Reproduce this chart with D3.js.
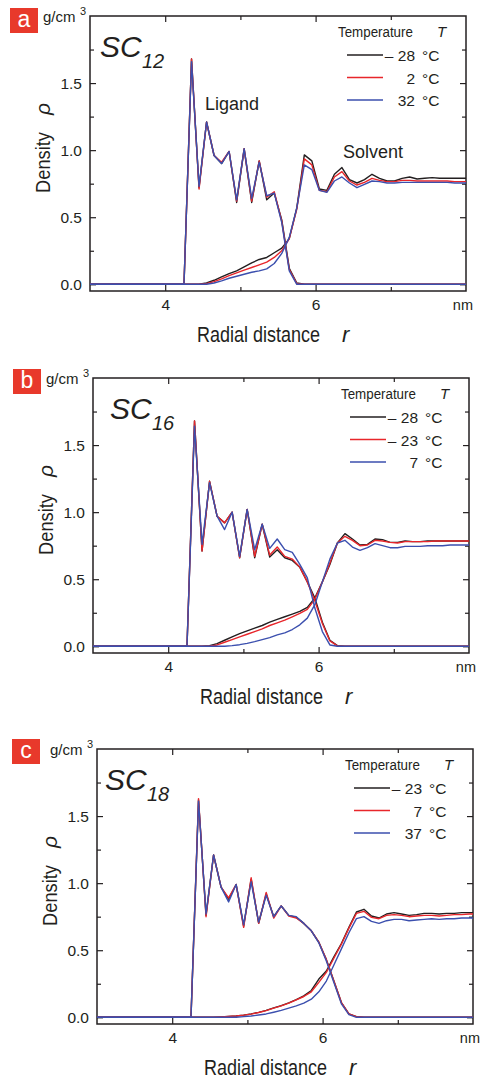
<html>
<head>
<meta charset="utf-8">
<script src="https://d3js.org/d3.v7.min.js"></script>
<style>
  body {margin: 0; background: #fff;}
  svg text {font-family: "Liberation Sans", Arial, sans-serif; fill: #231f20;}
</style>
</head>
<body>
<svg width=481 height=1083></svg>
<script>
// radial distance grid (nm)
var r = [3.00, 4.25, 4.35, 4.45, 4.55, 4.65, 4.75, 4.85, 4.95, 5.05, 5.15, 5.25, 5.35, 5.45, 5.55, 5.65,
         5.75, 5.85, 5.95, 6.05, 6.15, 6.25, 6.35, 6.45, 6.55, 6.65, 6.75, 6.85, 6.95, 7.05, 7.15, 7.25,
         7.35, 7.45, 7.55, 7.65, 7.75, 7.85, 7.95, 8.00];

// panel a, SC12
var ligA_k = [0,0,1.68,0.72,1.21,0.96,0.90,0.99,0.61,1.01,0.61,0.92,0.63,0.68,0.48,0.12,0.01,0,0,0,0,0,0,0,0,0,0,0,0,0,0,0,0,0,0,0,0,0,0,0];
var ligA_r = [0,0,1.68,0.71,1.21,0.96,0.91,0.99,0.62,1.01,0.62,0.92,0.65,0.69,0.47,0.11,0.005,0,0,0,0,0,0,0,0,0,0,0,0,0,0,0,0,0,0,0,0,0,0,0];
var ligA_b = [0,0,1.66,0.73,1.21,0.96,0.90,0.99,0.63,1.01,0.64,0.91,0.66,0.68,0.46,0.10,0,0,0,0,0,0,0,0,0,0,0,0,0,0,0,0,0,0,0,0,0,0,0,0];
var solA_k = [0,0,0,0,0.01,0.03,0.055,0.08,0.10,0.13,0.16,0.185,0.20,0.235,0.27,0.34,0.57,0.965,0.92,0.71,0.70,0.82,0.87,0.78,0.755,0.78,0.82,0.79,0.77,0.77,0.79,0.80,0.785,0.79,0.795,0.79,0.79,0.79,0.79,0.79];
var solA_r = [0,0,0,0,0.005,0.02,0.04,0.065,0.085,0.105,0.125,0.145,0.165,0.20,0.25,0.34,0.56,0.935,0.89,0.70,0.69,0.80,0.84,0.77,0.74,0.76,0.79,0.775,0.765,0.765,0.775,0.775,0.77,0.77,0.77,0.77,0.77,0.765,0.765,0.765];
var solA_b = [0,0,0,0,0,0.01,0.025,0.045,0.06,0.075,0.09,0.10,0.115,0.155,0.23,0.35,0.57,0.89,0.855,0.70,0.685,0.77,0.80,0.755,0.72,0.745,0.77,0.765,0.755,0.755,0.76,0.76,0.76,0.76,0.76,0.76,0.76,0.755,0.755,0.755];
var tempA = ['\u2013 28', '2', '32'];

// panel b, SC16
var ligB_k = [0,0,1.68,0.71,1.23,0.97,0.92,1.00,0.66,1.02,0.66,0.91,0.665,0.72,0.66,0.64,0.59,0.48,0.36,0.18,0.045,0.005,0,0,0,0,0,0,0,0,0,0,0,0,0,0,0,0,0,0];
var ligB_r = [0,0,1.68,0.71,1.23,0.97,0.92,1.00,0.66,1.02,0.67,0.91,0.68,0.74,0.67,0.65,0.59,0.48,0.34,0.17,0.04,0.003,0,0,0,0,0,0,0,0,0,0,0,0,0,0,0,0,0,0];
var ligB_b = [0,0,1.64,0.76,1.22,0.97,0.87,1.00,0.67,1.02,0.72,0.91,0.73,0.80,0.72,0.70,0.61,0.51,0.285,0.11,0.01,0,0,0,0,0,0,0,0,0,0,0,0,0,0,0,0,0,0,0];
var solB_k = [0,0,0,0,0.005,0.02,0.045,0.07,0.095,0.115,0.135,0.155,0.18,0.20,0.22,0.24,0.26,0.29,0.36,0.48,0.61,0.77,0.84,0.80,0.755,0.76,0.80,0.795,0.775,0.775,0.785,0.78,0.78,0.785,0.785,0.785,0.785,0.785,0.785,0.785];
var solB_r = [0,0,0,0,0,0.01,0.03,0.05,0.07,0.09,0.11,0.13,0.155,0.175,0.195,0.22,0.245,0.275,0.35,0.48,0.62,0.77,0.82,0.79,0.75,0.755,0.79,0.785,0.775,0.77,0.78,0.78,0.78,0.78,0.785,0.785,0.785,0.785,0.785,0.785];
var solB_b = [0,0,0,0,0,0,0,0.005,0.012,0.022,0.035,0.05,0.065,0.085,0.10,0.125,0.16,0.21,0.31,0.48,0.65,0.77,0.79,0.74,0.715,0.735,0.765,0.75,0.735,0.735,0.745,0.745,0.745,0.75,0.75,0.75,0.755,0.755,0.755,0.755];
var tempB = ['\u2013 28', '\u2013 23', '7'];

// panel c, SC18
var ligC_k = [0,0,1.62,0.76,1.21,0.97,0.88,0.99,0.68,1.03,0.70,0.92,0.75,0.83,0.76,0.745,0.70,0.645,0.56,0.43,0.27,0.11,0.025,0.005,0,0,0,0,0,0,0,0,0,0,0,0,0,0,0,0];
var ligC_r = [0,0,1.63,0.75,1.21,0.97,0.89,0.99,0.67,1.04,0.70,0.93,0.74,0.83,0.755,0.74,0.70,0.645,0.56,0.43,0.27,0.11,0.025,0.005,0,0,0,0,0,0,0,0,0,0,0,0,0,0,0,0];
var ligC_b = [0,0,1.61,0.77,1.21,0.97,0.86,0.99,0.69,1.01,0.71,0.91,0.75,0.83,0.76,0.75,0.70,0.645,0.555,0.42,0.26,0.10,0.02,0,0,0,0,0,0,0,0,0,0,0,0,0,0,0,0,0];
var solC_k = [0,0,0,0,0,0.003,0.006,0.01,0.016,0.025,0.037,0.052,0.07,0.087,0.107,0.132,0.16,0.20,0.285,0.345,0.45,0.55,0.67,0.785,0.805,0.755,0.74,0.77,0.78,0.77,0.76,0.765,0.775,0.775,0.77,0.775,0.775,0.78,0.78,0.78];
var solC_r = [0,0,0,0,0,0.003,0.006,0.01,0.016,0.024,0.036,0.05,0.068,0.085,0.105,0.13,0.155,0.19,0.26,0.335,0.44,0.545,0.665,0.775,0.79,0.745,0.735,0.76,0.765,0.76,0.75,0.755,0.76,0.76,0.755,0.76,0.765,0.765,0.77,0.77];
var solC_b = [0,0,0,0,0,0,0,0,0.005,0.01,0.017,0.025,0.038,0.052,0.068,0.085,0.105,0.135,0.19,0.27,0.39,0.51,0.63,0.735,0.75,0.715,0.70,0.72,0.73,0.73,0.72,0.725,0.73,0.735,0.73,0.735,0.735,0.74,0.74,0.74];
var tempC = ['\u2013 23', '7', '37'];

var colors = ['#231f20', '#e8262b', '#3b4fae'];
var W = 376, H = 275;

var x = d3.scaleLinear().domain([3, 8]).range([0, W]);
var y = d3.scaleLinear().domain([-0.05, 2.0]).range([H, 0]);

var svg = d3.select('svg');

// text squeezed horizontally to a given width (the original uses a condensed face)
function narrow(g, tf, size, width, txt) {
  var t = g.append('text').style('font-size', size + 'px').text(txt);
  var s = width / t.node().getComputedTextLength();
  t.attr('transform', tf + ' scale(' + s + ',1)');
  return t;
}

function drawPanel(p) {
  var g = svg.append('g').attr('transform', 'translate(' + p.left + ',' + p.top + ')');

  // inward ticks on all four sides
  function ticks(axis, vals, size, fmt) {
    return axis.tickValues(vals).tickSize(-size).tickPadding(8).tickFormat(fmt);
  }
  var none = function() { return ''; };
  var axes = [
    [d3.axisBottom(x), [4, 6], 6, d3.format('d'), 'translate(0,' + H + ')'],
    [d3.axisBottom(x), [5, 7], 4, none, 'translate(0,' + H + ')'],
    [d3.axisTop(x), [4, 6], 6, none, null],
    [d3.axisTop(x), [5, 7], 4, none, null],
    [d3.axisLeft(y), [0, 0.5, 1, 1.5], 6, d3.format('.1f'), null],
    [d3.axisLeft(y), [0.25, 0.75, 1.25, 1.75], 4, none, null],
    [d3.axisRight(y), [0, 0.5, 1, 1.5], 6, none, 'translate(' + W + ',0)'],
    [d3.axisRight(y), [0.25, 0.75, 1.25, 1.75], 4, none, 'translate(' + W + ',0)']
  ];
  axes.forEach(function(a) {
    var ag = g.append('g').attr('transform', a[4]).call(ticks(a[0], a[1], a[2], a[3]));
    ag.select('.domain').remove();
    ag.selectAll('line').attr('stroke', '#231f20').attr('stroke-width', 1.2);
    ag.selectAll('text').style('font-size', '15.5px').attr('fill', '#231f20');
  });

  g.append('rect')
    .attr('width', W).attr('height', H)
    .attr('fill', 'none').attr('stroke', '#231f20').attr('stroke-width', 1.5);

  var line = d3.line().x(function(d, i) { return x(r[i]); }).y(function(d) { return y(d); });
  [0, 1, 2].forEach(function(k) {
    [p.lig[k], p.sol[k]].forEach(function(s) {
      g.append('path')
        .attr('fill', 'none')
        .attr('stroke', colors[k])
        .attr('stroke-width', 1.4)
        .attr('stroke-linejoin', 'round')
        .attr('d', line(s));
    });
  });

  // legend
  narrow(g, 'translate(248,21)', 15, 75, 'Temperature');
  g.append('text').attr('x', 347).attr('y', 21).style('font-size', '15px')
    .style('font-style', 'italic').text('T');
  var rows = [39, 61.5, 84];
  p.temps.forEach(function(t, k) {
    g.append('line').attr('x1', 257).attr('x2', 293).attr('y1', rows[k]).attr('y2', rows[k])
      .attr('stroke', colors[k]).attr('stroke-width', 1.5);
    g.append('text').attr('x', 325).attr('y', rows[k] + 6).attr('text-anchor', 'end')
      .style('font-size', '15.5px').text(t);
    g.append('text').attr('x', 332).attr('y', rows[k] + 6)
      .style('font-size', '15.5px').text('\u00b0C');
  });

  // SC label
  g.append('text').attr('x', p.scx).attr('y', 41).style('font-size', '30px')
    .style('font-style', 'italic').text('SC');
  g.append('text').attr('x', p.scx + 42).attr('y', 52).style('font-size', '20px')
    .style('font-style', 'italic').text(p.sub);

  // panel letter
  g.append('rect').attr('x', p.box[0]).attr('y', p.box[1]).attr('width', 28).attr('height', 25)
    .attr('fill', '#e8392b');
  g.append('text').attr('x', p.box[0] + 14).attr('y', p.box[1] + 19).attr('text-anchor', 'middle')
    .style('font-size', '23px').style('fill', '#fff').text(p.letter);

  // units
  g.append('text').attr('x', -47).attr('y', 6).style('font-size', '15px').text('g/cm');
  g.append('text').attr('x', -10).attr('y', -1).style('font-size', '11px').text('3');
  g.append('text').attr('x', W + 7).attr('y', 294).attr('text-anchor', 'end')
    .style('font-size', '14.5px').text('nm');

  // axis titles
  narrow(g, 'translate(-40,177) rotate(-90)', 21, 61, 'Density');
  g.append('text').attr('transform', 'translate(-40,99) rotate(-90)')
    .style('font-size', '21px').style('font-style', 'italic').text('\u03c1');

  narrow(g, 'translate(107,326)', 22, 123, 'Radial distance');
  g.append('text').attr('x', 252).attr('y', 326).style('font-size', '22px')
    .style('font-style', 'italic').text('r');

  return g;
}

var ga = drawPanel({left: 90, top: 16, lig: [ligA_k, ligA_r, ligA_b], sol: [solA_k, solA_r, solA_b],
  temps: tempA, scx: 10, sub: '12', letter: 'a', box: [-80, -8]});
ga.append('text').attr('x', 115).attr('y', 94).style('font-size', '18px').text('Ligand');
ga.append('text').attr('x', 253).attr('y', 142).style('font-size', '18px').text('Solvent');

drawPanel({left: 93, top: 378, lig: [ligB_k, ligB_r, ligB_b], sol: [solB_k, solB_r, solB_b],
  temps: tempB, scx: 17, sub: '16', letter: 'b', box: [-80, -9]});

drawPanel({left: 97, top: 749, lig: [ligC_k, ligC_r, ligC_b], sol: [solC_k, solC_r, solC_b],
  temps: tempC, scx: 8, sub: '18', letter: 'c', box: [-85, -10]});
</script>
</body>
</html>
